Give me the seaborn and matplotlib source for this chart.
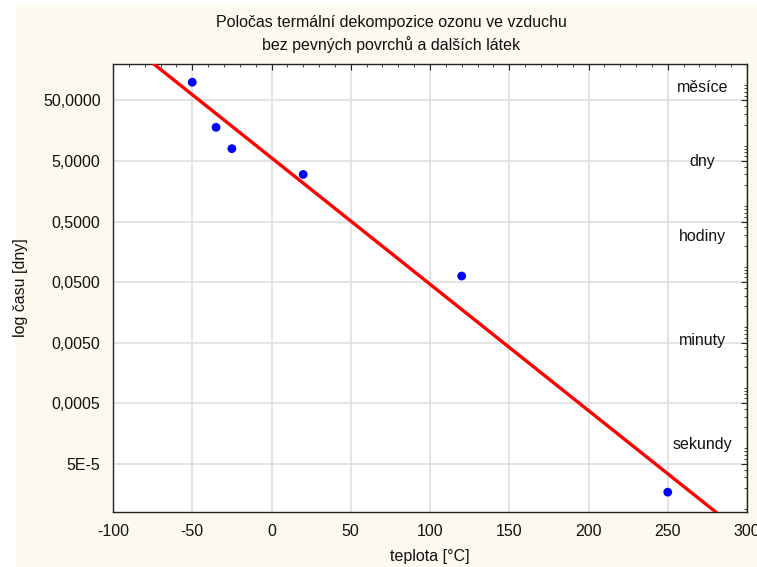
import numpy as np
import pandas as pd
import matplotlib
matplotlib.use("Agg")
import matplotlib.pyplot as plt
from matplotlib.patches import Rectangle
from matplotlib.ticker import FixedLocator, FixedFormatter, LogLocator, MultipleLocator, NullFormatter
import seaborn as sns

# ---- data ----
teplota = [-50, -35, -25, 20, 120, 250]
cas_dny = [100, 18, 8, 3, 0.063, 1.7e-5]
ytick_vals = [5e-5, 5e-4, 5e-3, 5e-2, 5e-1, 5, 50]
ytick_labels = ["5E-5", "0,0005", "0,0050", "0,0500", "0,5000", "5,0000", "50,0000"]
xtick_vals = [-100, -50, 0, 50, 100, 150, 200, 250, 300]
pasma = ["měsíce", "dny", "hodiny", "minuty", "sekundy"]
pasma_y = [81, 5, 0.28, 0.0054, 1.03e-4]

df = pd.DataFrame({"teplota": teplota, "cas": cas_dny})

sns.set_theme(style="white")
plt.rcParams["font.family"] = ["Liberation Sans", "DejaVu Sans"]
plt.rcParams["axes.unicode_minus"] = False

FS = 11.5
W, H = 757, 567
fig = plt.figure(figsize=(W / 100, H / 100), dpi=100, facecolor="white")
fig.patches.append(Rectangle((16 / W, 0), (W - 16) / W, (H - 5) / H,
                             transform=fig.transFigure, facecolor="#FEF9EF",
                             edgecolor="none", zorder=-10))
ax = fig.add_axes([113 / W, 1 - 512 / H, (747 - 113) / W, (512 - 64) / H])
ax.set_facecolor("white")

# regression line in log space
coef = np.polyfit(df["teplota"], np.log10(df["cas"]), 1)
xs = np.linspace(-100, 300, 200)
fit = pd.DataFrame({"teplota": xs, "cas": 10 ** np.polyval(coef, xs)})
sns.lineplot(data=fit, x="teplota", y="cas", color="#FF0000", linewidth=2.4, ax=ax, zorder=3)
sns.scatterplot(data=df, x="teplota", y="cas", color="#0000FF", s=40, edgecolor="none", ax=ax, zorder=4)

ax.set_yscale("log")
ax.set_xlim(-100, 300)
ax.set_ylim(8e-6, 200)

ax.yaxis.set_major_locator(FixedLocator(ytick_vals))
ax.yaxis.set_major_formatter(FixedFormatter(ytick_labels))
ax.yaxis.set_minor_locator(LogLocator(base=10, subs=np.arange(2, 10)))
ax.yaxis.set_minor_formatter(NullFormatter())
ax.set_xticks(xtick_vals)
ax.xaxis.set_minor_locator(MultipleLocator(10))

ax.grid(True, which="major", color="#DDDDDD", linewidth=1.1)
ax.tick_params(which="both", direction="in", top=True, right=True, colors="#222222",
               labelsize=FS, labelcolor="#111111")
ax.tick_params(which="major", length=4, width=0.8)
ax.tick_params(which="minor", length=2.5, width=0.6)
ax.tick_params(axis="y", pad=9)
ax.tick_params(axis="x", pad=9)
for s in ax.spines.values():
    s.set_color("#222222")
    s.set_linewidth(1.0)

ax.set_xlabel("teplota [°C]", fontsize=FS, color="#111111", labelpad=7)
ax.set_ylabel("log času [dny]", fontsize=FS, color="#111111", labelpad=11)

for t, yv in zip(pasma, pasma_y):
    ax.text(272, yv, t, ha="center", va="center", fontsize=FS, color="#111111")

fig.text(391 / W, 1 - 23 / H, "Poločas termální dekompozice ozonu ve vzduchu",
         ha="center", va="center", fontsize=FS, color="#111111")
fig.text(391 / W, 1 - 45 / H, "bez pevných povrchů a dalších látek",
         ha="center", va="center", fontsize=FS, color="#111111")

fig.savefig("out.png", dpi=100, facecolor="white")
